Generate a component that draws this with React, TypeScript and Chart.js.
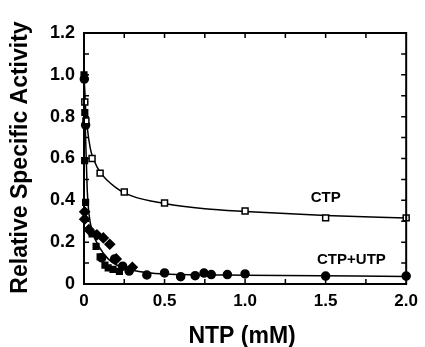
import React, { useEffect, useRef } from "react";
import { Chart, registerables } from "chart.js";
Chart.register(...registerables);

const FONT = '"Liberation Sans", Arial, Helvetica, sans-serif';

// CTP (open squares)
const ctpX = [0.005, 0.012, 0.05, 0.1, 0.25, 0.5, 1.0, 1.5, 2.0];
const ctpY = [0.87, 0.78, 0.6, 0.53, 0.44, 0.387, 0.349, 0.316, 0.316];
// CTP fitted curve
const ctpFitX = [0, 0.01, 0.02, 0.04, 0.06, 0.1, 0.2, 0.3, 0.5, 0.75, 1.0, 1.5, 2.0];
const ctpFitY = [1.0, 0.84, 0.75, 0.645, 0.595, 0.535, 0.46, 0.42, 0.385, 0.36, 0.347, 0.328, 0.315];

// CTP+UTP filled squares
const sqX = [0, 0.005, 0.004, 0.01, 0.05, 0.075, 0.1, 0.13, 0.15, 0.18, 0.22];
const sqY = [1.0, 0.82, 0.59, 0.39, 0.24, 0.18, 0.13, 0.09, 0.077, 0.07, 0.06];
// CTP+UTP filled circles
const ciX = [0.002, 0.01, 0.11, 0.19, 0.24, 0.28, 0.39, 0.5, 0.6, 0.69, 0.745, 0.79, 0.89, 1.0, 1.5, 2.0];
const ciY = [0.98, 0.76, 0.125, 0.12, 0.085, 0.062, 0.043, 0.053, 0.035, 0.04, 0.052, 0.045, 0.045, 0.048, 0.038, 0.038];
// CTP+UTP filled diamonds
const diX = [0.004, 0.004, 0.03, 0.08, 0.12, 0.16, 0.2, 0.3];
const diY = [0.345, 0.31, 0.26, 0.235, 0.22, 0.19, 0.12, 0.08];
// CTP+UTP fitted curve
const utpFitX = [0, 0.01, 0.02, 0.03, 0.05, 0.1, 0.15, 0.2, 0.3, 0.5, 1.0, 2.0];
const utpFitY = [1.0, 0.7, 0.45, 0.34, 0.255, 0.17, 0.12, 0.092, 0.066, 0.048, 0.042, 0.036];

const xTickLabels = ["0", "0.5", "1.0", "1.5", "2.0"];
const yTickLabels = ["0", "0.2", "0.4", "0.6", "0.8", "1.0", "1.2"];
const xTitle = "NTP (mM)";
const yTitle = "Relative Specific Activity";

const annotations = [
  { text: "CTP", x: 1.5, y: 0.41 },
  { text: "CTP+UTP", x: 1.66, y: 0.115 },
];

const zip = (xs: number[], ys: number[]) => xs.map((x, i) => ({ x, y: ys[i] }));

const framePlugin = {
  id: "frame",
  afterDatasetsDraw(chart: any) {
    const { ctx, chartArea: a, scales } = chart;
    const xs = scales.x, ys = scales.y;
    ctx.save();
    ctx.strokeStyle = "#000";
    ctx.lineWidth = 2;
    ctx.strokeRect(a.left, a.top, a.right - a.left, a.bottom - a.top);
    ctx.lineWidth = 1.5;
    const L = 5;
    ctx.beginPath();
    for (let v = 0.25; v < 2; v += 0.25) {
      const px = xs.getPixelForValue(v);
      ctx.moveTo(px, a.bottom); ctx.lineTo(px, a.bottom - L);
      ctx.moveTo(px, a.top); ctx.lineTo(px, a.top + L);
    }
    for (let i = 1; i < 12; i++) {
      const py = ys.getPixelForValue(i / 10);
      ctx.moveTo(a.left, py); ctx.lineTo(a.left + L, py);
      ctx.moveTo(a.right, py); ctx.lineTo(a.right - L, py);
    }
    ctx.stroke();
    ctx.fillStyle = "#000";
    ctx.font = `bold 15px ${FONT}`;
    ctx.textAlign = "center";
    ctx.textBaseline = "middle";
    annotations.forEach((an) => {
      ctx.fillText(an.text, xs.getPixelForValue(an.x), ys.getPixelForValue(an.y));
    });
    // axis titles
    ctx.font = `bold 23px ${FONT}`;
    ctx.fillText(xTitle, (a.left + a.right) / 2 - 3, a.bottom + 53);
    ctx.save();
    ctx.translate(21, (a.top + a.bottom) / 2 - 1);
    ctx.rotate(-Math.PI / 2);
    ctx.fillText(yTitle, 0, 0);
    ctx.restore();
    ctx.restore();
  },
};

export default function App() {
  const ref = useRef<HTMLCanvasElement>(null);
  useEffect(() => {
    const pt = (style: any, r: number, fill: string) => ({
      type: "line" as const,
      showLine: false,
      pointStyle: style,
      pointRadius: r,
      pointBackgroundColor: fill,
      pointBorderColor: "#000",
      pointBorderWidth: 1.5,
      clip: false as any,
    });
    const chart = new Chart(ref.current!, {
      type: "line",
      data: {
        datasets: [
          { ...pt("rect", 4.2, "#fff"), data: zip(ctpX, ctpY), order: 0 } as any,
          { ...pt("rect", 4, "#000"), data: zip(sqX, sqY), order: 1 } as any,
          { ...pt("circle", 4, "#000"), data: zip(ciX, ciY), order: 1 } as any,
          { ...pt("rectRot", 4.8, "#000"), data: zip(diX, diY), order: 1 } as any,
          {
            data: zip(ctpFitX, ctpFitY), borderColor: "#000", borderWidth: 1.5,
            pointRadius: 0, cubicInterpolationMode: "monotone", order: 5,
          },
          {
            data: zip(utpFitX, utpFitY), borderColor: "#000", borderWidth: 1.5,
            pointRadius: 0, cubicInterpolationMode: "monotone", order: 5,
          },
        ],
      },
      options: {
        responsive: false,
        animation: false,
        layout: { padding: { top: 33, right: 16, left: 0, bottom: 0 } },
        plugins: { legend: { display: false }, tooltip: { enabled: false } },
        scales: {
          x: {
            type: "linear", min: 0, max: 2,
            grid: { display: false, drawTicks: false },
            border: { display: false },
            ticks: {
              stepSize: 0.5, padding: 7, color: "#000",
              font: { family: FONT, size: 17, weight: "bold" },
              callback: (v: any) => xTickLabels[Math.round(Number(v) / 0.5)] ?? "",
            },
            afterFit: (s: any) => { s.height = 63; },
          },
          y: {
            type: "linear", min: 0, max: 1.2,
            grid: { display: false, drawTicks: false },
            border: { display: false },
            ticks: {
              stepSize: 0.2, padding: 9, color: "#000",
              font: { family: FONT, size: 18, weight: "bold" },
              callback: (v: any) => yTickLabels[Math.round(Number(v) / 0.2)] ?? "",
            },
            afterFit: (s: any) => { s.width = 84; },
          },
        },
      },
      plugins: [framePlugin],
    });
    return () => chart.destroy();
  }, []);
  return (
    <div style={{ position: "absolute", left: 0, top: 0, width: 425, height: 347, background: "#fff" }}>
      <canvas ref={ref} width={425} height={347} style={{ display: "block" }} />
    </div>
  );
}
